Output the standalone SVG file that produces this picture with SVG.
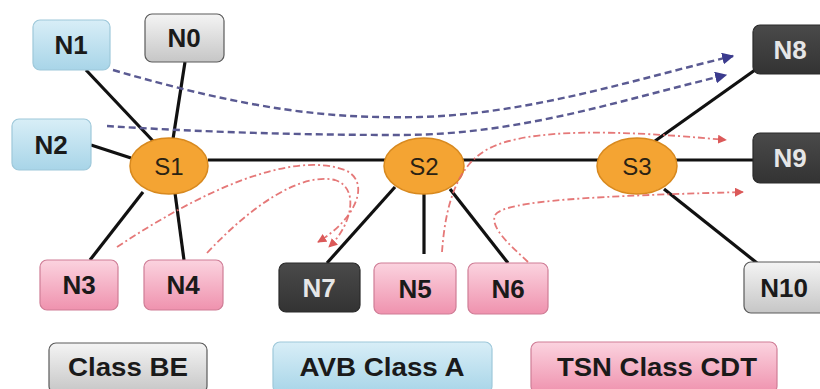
<svg xmlns="http://www.w3.org/2000/svg" width="820" height="389" viewBox="0 0 820 389">
  <defs>
    <linearGradient id="gBlue" x1="0" y1="0" x2="0" y2="1">
      <stop offset="0" stop-color="#d8eef7"/>
      <stop offset="1" stop-color="#a8d5e8"/>
    </linearGradient>
    <linearGradient id="gGrey" x1="0" y1="0" x2="0" y2="1">
      <stop offset="0" stop-color="#f4f4f4"/>
      <stop offset="1" stop-color="#c6c6c6"/>
    </linearGradient>
    <linearGradient id="gPink" x1="0" y1="0" x2="0" y2="1">
      <stop offset="0" stop-color="#fbd3df"/>
      <stop offset="1" stop-color="#ef92ae"/>
    </linearGradient>
    <linearGradient id="gDark" x1="0" y1="0" x2="0" y2="1">
      <stop offset="0" stop-color="#4a4a4a"/>
      <stop offset="1" stop-color="#333333"/>
    </linearGradient>
    <marker id="arrBlue" viewBox="0 0 10 10" refX="9" refY="5" markerWidth="5" markerHeight="5" orient="auto" markerUnits="strokeWidth">
      <path d="M0,0 L10,5 L0,10 Z" fill="#3b3b8e"/>
    </marker>
    <marker id="arrRed" viewBox="0 0 10 10" refX="9" refY="5" markerWidth="5" markerHeight="5" orient="auto" markerUnits="strokeWidth">
      <path d="M0,0 L10,5 L0,10 Z" fill="#d84848"/>
    </marker>
  </defs>
  <style>
    .box { stroke-width: 1.2; }
    .blue { fill: url(#gBlue); stroke: #9ec8da; }
    .grey { fill: url(#gGrey); stroke: #5a5a5a; }
    .pink { fill: url(#gPink); stroke: #cf7d96; }
    .dark { fill: url(#gDark); stroke: #2a2a2a; }
    .sw { fill: #f4a433; stroke: #d8891e; stroke-width: 1.5; }
    .lbl { font-family: "Liberation Sans", Arial, sans-serif; font-weight: bold; font-size: 26px; text-anchor: middle; fill: #1a1a1a; }
    .lbl.light { fill: #e6e6e6; }
    .swl { font-family: "Liberation Sans", Arial, sans-serif; font-size: 24px; text-anchor: middle; fill: #2a2214; }
    .leg { font-family: "Liberation Sans", Arial, sans-serif; font-weight: bold; font-size: 26px; text-anchor: middle; fill: #1a1a1a; }
    .link { stroke: #111; stroke-width: 3.2; fill: none; }
    .avb { stroke: #5a5a92; stroke-width: 2.4; stroke-dasharray: 7 4; fill: none; marker-end: url(#arrBlue); }
    .tsn { stroke: #e36a6a; stroke-width: 1.8; stroke-dasharray: 7 3 2 3; fill: none; marker-end: url(#arrRed); opacity: 0.9; }
  </style>
  <rect width="820" height="389" fill="#ffffff"/>

  <!-- physical links -->
  <g id="links">
    <line class="link" x1="86" y1="70" x2="153" y2="141"/>
    <line class="link" x1="185" y1="62" x2="173" y2="139"/>
    <line class="link" x1="91" y1="145" x2="131" y2="158"/>
    <line class="link" x1="143" y1="192" x2="90" y2="260"/>
    <line class="link" x1="175" y1="193" x2="184" y2="260"/>
    <line class="link" x1="208" y1="160" x2="753" y2="160"/>
    <line class="link" x1="395" y1="187" x2="327" y2="263"/>
    <line class="link" x1="424" y1="194" x2="424" y2="254"/>
    <line class="link" x1="450" y1="189" x2="508" y2="263"/>
    <line class="link" x1="655" y1="141" x2="755" y2="70"/>
    <line class="link" x1="664" y1="189" x2="757" y2="263"/>
  </g>

  <!-- switches -->
  <g id="S1"><ellipse class="sw" cx="169" cy="166" rx="39" ry="28"/><text class="swl" x="169" y="175">S1</text></g>
  <g id="S2"><ellipse class="sw" cx="424" cy="166" rx="40" ry="28"/><text class="swl" x="424" y="175">S2</text></g>
  <g id="S3"><ellipse class="sw" cx="637" cy="166" rx="40" ry="28"/><text class="swl" x="637" y="175">S3</text></g>

  <!-- end stations -->
  <g id="N1"><rect class="box blue" x="33" y="20" width="77" height="50" rx="7"/><text class="lbl" x="71" y="54">N1</text></g>
  <g id="N0"><rect class="box grey" x="145" y="14" width="79" height="48" rx="7"/><text class="lbl" x="184" y="47">N0</text></g>
  <g id="N2"><rect class="box blue" x="12" y="119" width="79" height="51" rx="7"/><text class="lbl" x="51" y="154">N2</text></g>
  <g id="N3"><rect class="box pink" x="40" y="260" width="78" height="50" rx="7"/><text class="lbl" x="79" y="294">N3</text></g>
  <g id="N4"><rect class="box pink" x="144" y="260" width="79" height="50" rx="7"/><text class="lbl" x="183" y="294">N4</text></g>
  <g id="N7"><rect class="box dark" x="279" y="263" width="81" height="49" rx="7"/><text class="lbl light" x="319" y="297">N7</text></g>
  <g id="N5"><rect class="box pink" x="374" y="263" width="82" height="51" rx="7"/><text class="lbl" x="415" y="298">N5</text></g>
  <g id="N6"><rect class="box pink" x="468" y="263" width="80" height="51" rx="7"/><text class="lbl" x="508" y="298">N6</text></g>
  <g id="N8"><rect class="box dark" x="753" y="25" width="76" height="49" rx="7"/><text class="lbl light" x="790" y="59">N8</text></g>
  <g id="N9"><rect class="box dark" x="753" y="133" width="76" height="50" rx="7"/><text class="lbl light" x="790" y="167">N9</text></g>
  <g id="N10"><rect class="box grey" x="744" y="262" width="82" height="51" rx="7"/><text class="lbl" x="784" y="297">N10</text></g>

  <!-- legend -->
  <g id="legend-be"><rect class="box grey" x="49" y="343" width="158" height="50" rx="7"/><text class="leg" x="128" y="376" textLength="120" lengthAdjust="spacingAndGlyphs">Class BE</text></g>
  <g id="legend-avb"><rect class="box blue" x="273" y="342" width="219" height="51" rx="7"/><text class="leg" x="382" y="376" textLength="165" lengthAdjust="spacingAndGlyphs">AVB Class A</text></g>
  <g id="legend-tsn"><rect class="box pink" x="531" y="342" width="246" height="51" rx="7"/><text class="leg" x="657" y="376" textLength="200" lengthAdjust="spacingAndGlyphs">TSN Class CDT</text></g>

  <!-- stream flows -->
  <g id="flows">
    <path class="avb" d="M113,70 C250,110 330,119 420,117 C530,114 640,78 733,56"/>
    <path class="avb" d="M107,126 C200,132 300,135 400,135 C520,135 620,100 726,75"/>
    <path class="tsn" d="M117,247 C200,192 290,150 345,170 C372,182 355,220 318,242"/>
    <path class="tsn" d="M207,253 C250,207 300,172 335,180 C360,188 352,225 329,247"/>
    <path class="tsn" d="M442,252 C445,210 455,165 490,148 C530,128 620,130 726,140"/>
    <path class="tsn" d="M528,262 C510,245 490,228 495,215 C505,200 600,196 743,192"/>
  </g>
</svg>
